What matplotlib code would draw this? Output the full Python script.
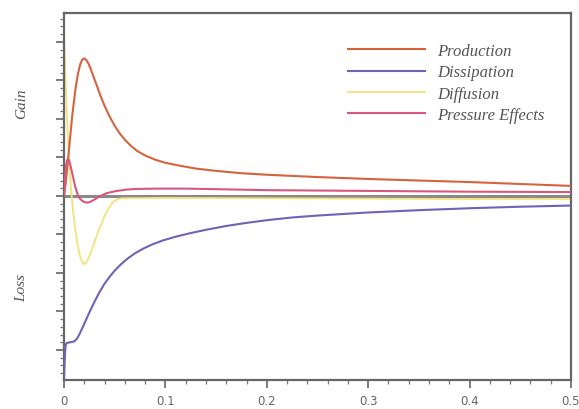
import matplotlib
matplotlib.use("Agg")
import matplotlib.pyplot as plt
from matplotlib.ticker import MultipleLocator

# -------------------------------
# Data
# -------------------------------
prod_x = [0, 0.002, 0.004, 0.006, 0.008, 0.010, 0.012, 0.014, 0.016, 0.018, 0.020,
          0.022, 0.024, 0.026, 0.028, 0.030, 0.033, 0.036, 0.040, 0.045, 0.050,
          0.055, 0.060, 0.066, 0.072, 0.080, 0.090, 0.100, 0.115, 0.130, 0.150,
          0.175, 0.2, 0.25, 0.3, 0.35, 0.4, 0.45, 0.5]
prod_y = [0, 0.4, 0.95, 1.5, 2.05, 2.5, 2.9, 3.2, 3.42, 3.54, 3.57,
          3.53, 3.44, 3.32, 3.18, 3.03, 2.82, 2.6, 2.34, 2.06, 1.82,
          1.62, 1.46, 1.3, 1.17, 1.05, 0.94, 0.86, 0.78, 0.71, 0.65,
          0.59, 0.55, 0.49, 0.44, 0.40, 0.36, 0.31, 0.26]

diss_x = [0, 0.0005, 0.001, 0.0015, 0.0025, 0.006, 0.010, 0.013, 0.016, 0.019,
          0.022, 0.026, 0.030, 0.035, 0.040, 0.045, 0.050, 0.056, 0.063, 0.070,
          0.078, 0.087, 0.097, 0.11, 0.124, 0.14, 0.16, 0.18, 0.2, 0.225, 0.25,
          0.3, 0.35, 0.4, 0.45, 0.5]
diss_y = [-4.78, -4.4, -4.1, -3.9, -3.82, -3.8, -3.78, -3.7, -3.55, -3.38,
          -3.2, -2.97, -2.75, -2.5, -2.28, -2.1, -1.94, -1.78, -1.62, -1.49,
          -1.37, -1.26, -1.16, -1.06, -0.97, -0.88, -0.78, -0.7, -0.63, -0.56, -0.51,
          -0.43, -0.37, -0.32, -0.28, -0.25]

diff_x = [0, 0.0015, 0.003, 0.0045, 0.006, 0.0075, 0.009, 0.011, 0.013, 0.015,
          0.017, 0.019, 0.021, 0.023, 0.026, 0.029, 0.032, 0.036, 0.040, 0.044,
          0.048, 0.052, 0.057, 0.1, 0.2, 0.3, 0.4, 0.5]
diff_y = [4.2, 3.0, 2.0, 1.15, 0.5, 0.0, -0.4, -0.85, -1.2, -1.48,
          -1.66, -1.76, -1.76, -1.68, -1.5, -1.28, -1.05, -0.78, -0.52, -0.32,
          -0.17, -0.09, -0.06, -0.05, -0.06, -0.07, -0.08, -0.08]

pres_x = [0, 0.001, 0.002, 0.003, 0.004, 0.005, 0.007, 0.009, 0.011, 0.013,
          0.015, 0.018, 0.021, 0.024, 0.027, 0.031, 0.036, 0.042, 0.05, 0.06,
          0.07, 0.09, 0.12, 0.14, 0.2, 0.3, 0.4, 0.5]
pres_y = [0, 0.45, 0.78, 0.93, 0.96, 0.92, 0.72, 0.48, 0.25, 0.07,
          -0.05, -0.13, -0.17, -0.17, -0.14, -0.08, 0.0, 0.07, 0.12, 0.16,
          0.18, 0.19, 0.19, 0.18, 0.15, 0.13, 0.11, 0.1]

xticks = [0, 0.1, 0.2, 0.3, 0.4, 0.5]
xtick_labels = ["0", "0.1", "0.2", "0.3", "0.4", "0.5"]

# -------------------------------
# Plot
# -------------------------------
fig = plt.figure(figsize=(5.79, 4.10), dpi=100)
ax = fig.add_axes([64 / 579, 1 - 381 / 410, 507 / 579, 367 / 410])

ax.axhline(0, color="#8a8a8a", lw=2.2, zorder=1)
ax.plot(prod_x, prod_y, color="#d5643e", lw=1.5, label="Production", zorder=3)
ax.plot(diss_x, diss_y, color="#6c64b6", lw=1.5, label="Dissipation", zorder=3)
ax.plot(diff_x, diff_y, color="#f2e27c", lw=1.3, label="Diffusion", zorder=2)
ax.plot(pres_x, pres_y, color="#d9577c", lw=1.5, label="Pressure Effects", zorder=3)

ax.set_xlim(0, 0.5)
ax.set_ylim(-4.78, 4.75)
ax.set_xticks(xticks)
ax.set_xticklabels(xtick_labels)
ax.xaxis.set_minor_locator(MultipleLocator(0.02))
ax.yaxis.set_major_locator(MultipleLocator(1))
ax.yaxis.set_minor_locator(MultipleLocator(0.2))
ax.set_yticklabels([])

for s in ax.spines.values():
    s.set_color("#666666")
    s.set_linewidth(1.6)

ax.tick_params(which="major", length=6, width=1.2, color="#666666",
               labelsize=8.5, labelcolor="#666666", pad=4)
ax.tick_params(which="minor", length=3, width=0.9, color="#777777")

serif_it = dict(family="Liberation Serif", style="italic", color="#555555")
fig.text(22 / 579, 1 - 104 / 410, "Gain", rotation=90, ha="center", va="center",
         fontsize=11, **serif_it)
fig.text(22 / 579, 1 - 288 / 410, "Loss", rotation=90, ha="center", va="center",
         fontsize=11, **serif_it)

leg = ax.legend(loc="upper left", bbox_to_anchor=(348 / 579, 1 - 44 / 410),
                bbox_transform=fig.transFigure, frameon=False, borderpad=0,
                borderaxespad=0, handlelength=4.6, handletextpad=0.75,
                labelspacing=0.32, prop={"family": "Liberation Serif",
                                         "style": "italic", "size": 12})
for t in leg.get_texts():
    t.set_color("#555555")

plt.savefig("out.png", dpi=100)
plt.close()
